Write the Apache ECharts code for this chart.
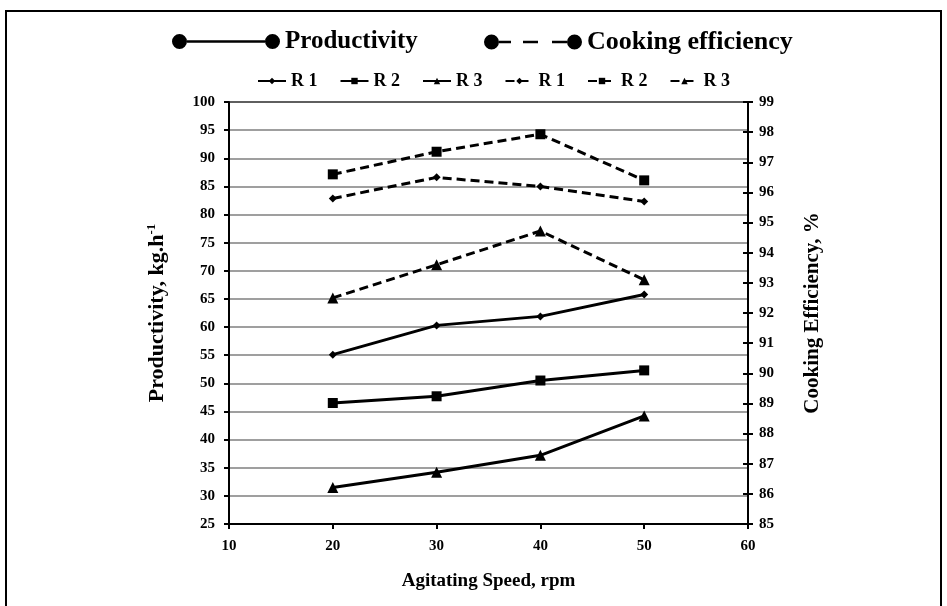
<!DOCTYPE html>
<html>
<head>
<meta charset="utf-8">
<script src="https://cdn.jsdelivr.net/npm/echarts@6/dist/echarts.min.js"></script>
<style>
html,body{margin:0;padding:0;background:#fff;}
#chart{width:947px;height:606px;}
</style>
</head>
<body>
<div id="chart"></div>
<script>
// agitating speed, rpm
var speeds = [20, 30, 40, 50];
// productivity, kg/h (left axis)
var prodR1 = [55.1, 60.3, 61.9, 65.8];
var prodR2 = [46.5, 47.7, 50.5, 52.3];
var prodR3 = [31.5, 34.2, 37.2, 44.2];
// cooking efficiency, % (right axis)
var effR1 = [95.8, 96.5, 96.2, 95.7];
var effR2 = [96.6, 97.35, 97.93, 96.4];
var effR3 = [92.5, 93.6, 94.72, 93.1];

var fontFam = '"Liberation Serif", "Times New Roman", serif';

function pairs(ys) {
    var out = [];
    for (var i = 0; i < speeds.length; i++) {
        out.push([speeds[i], ys[i]]);
    }
    return out;
}

function mkLine(name, ys, axis, symbol, size, dashed) {
    return {
        name: name,
        type: 'line',
        yAxisIndex: axis,
        data: pairs(ys),
        symbol: symbol,
        symbolSize: size,
        color: '#000',
        lineStyle: {color: '#000', width: 3, type: dashed ? [9, 5] : 'solid'},
        itemStyle: {color: '#000'},
        z: 5
    };
}

// legend icons: line with a dot on each end
var iconSolid = 'path://M0,7.5 a7.5,7.5 0 1,0 15,0 a7.5,7.5 0 1,0 -15,0 Z M15,6.2 L93,6.2 L93,8.8 L15,8.8 Z M93,7.5 a7.5,7.5 0 1,0 15,0 a7.5,7.5 0 1,0 -15,0 Z';
var iconDash = 'path://M0,7.5 a7.5,7.5 0 1,0 15,0 a7.5,7.5 0 1,0 -15,0 Z M15,6.2 L27,6.2 L27,8.8 L15,8.8 Z M39,6.2 L54,6.2 L54,8.8 L39,8.8 Z M68,6.2 L83,6.2 L83,8.8 L68,8.8 Z M83,7.5 a7.5,7.5 0 1,0 15,0 a7.5,7.5 0 1,0 -15,0 Z';

var chart = echarts.init(document.getElementById('chart'));
var option = {
    backgroundColor: '#fff',
    animation: false,
    graphic: [{
        type: 'rect',
        shape: {x: 6, y: 11, width: 935, height: 640},
        style: {fill: 'none', stroke: '#000', lineWidth: 2},
        silent: true
    }],
    legend: [{
        left: 167, top: 24,
        itemWidth: 108, itemHeight: 15,
        selectedMode: false,
        textStyle: {fontFamily: fontFam, fontWeight: 'bold', fontSize: 25, color: '#000'},
        data: [{name: 'Productivity', icon: iconSolid}]
    }, {
        left: 479, top: 24,
        itemWidth: 98, itemHeight: 15,
        selectedMode: false,
        textStyle: {fontFamily: fontFam, fontWeight: 'bold', fontSize: 26, color: '#000'},
        data: [{name: 'Cooking efficiency', icon: iconDash}]
    }, {
        left: 252, top: 67,
        itemWidth: 28, itemHeight: 8,
        itemGap: 22,
        selectedMode: false,
        textStyle: {fontFamily: fontFam, fontWeight: 'bold', fontSize: 18, color: '#000'},
        formatter: function (n) { return n.trim(); },
        data: ['R 1', 'R 2', 'R 3', 'R 1 ', 'R 2 ', 'R 3 ']
    }],
    grid: {left: 229, right: 199, top: 102, bottom: 82, show: true, borderColor: '#000', borderWidth: 2},
    xAxis: {
        type: 'value', min: 10, max: 60, interval: 10,
        name: 'Agitating Speed, rpm', nameLocation: 'middle', nameGap: 48,
        nameTextStyle: {fontFamily: fontFam, fontWeight: 'bold', fontSize: 19, color: '#000'},
        axisLine: {lineStyle: {color: '#000', width: 2}},
        axisTick: {length: 5, lineStyle: {color: '#000', width: 2}},
        axisLabel: {margin: 15, fontFamily: fontFam, fontWeight: 'bold', fontSize: 15, color: '#000'},
        splitLine: {show: false}
    },
    yAxis: [{
        type: 'value', min: 25, max: 100, interval: 5,
        name: 'Productivity, kg.h{sup|-1}', nameLocation: 'middle', nameRotate: 90, nameGap: 60,
        nameTextStyle: {fontFamily: fontFam, fontWeight: 'bold', fontSize: 22, color: '#000',
            rich: {sup: {fontFamily: fontFam, fontWeight: 'bold', fontSize: 13, color: '#000', verticalAlign: 'top', padding: [0, 0, 11, 0]}}},
        axisLine: {show: true, lineStyle: {color: '#000', width: 2}},
        axisTick: {show: true, length: 5, lineStyle: {color: '#000', width: 2}},
        axisLabel: {margin: 14, fontFamily: fontFam, fontWeight: 'bold', fontSize: 15, color: '#000'},
        splitLine: {show: true, lineStyle: {color: '#7f7f7f', width: 1.5}}
    }, {
        type: 'value', min: 85, max: 99, interval: 1, position: 'right',
        name: 'Cooking Efficiency, %', nameLocation: 'middle', nameRotate: 90, nameGap: 54,
        nameTextStyle: {fontFamily: fontFam, fontWeight: 'bold', fontSize: 21, color: '#000'},
        axisLine: {show: true, lineStyle: {color: '#000', width: 2}},
        axisTick: {show: true, length: 5, lineStyle: {color: '#000', width: 2}},
        axisLabel: {margin: 11, fontFamily: fontFam, fontWeight: 'bold', fontSize: 15, color: '#000'},
        splitLine: {show: false}
    }, {
        // inner half of the cross ticks on the right axis
        type: 'value', min: 85, max: 99, interval: 1, position: 'right',
        axisLine: {show: false},
        axisTick: {show: true, inside: true, length: 5, lineStyle: {color: '#000', width: 2}},
        axisLabel: {show: false},
        splitLine: {show: false}
    }],
    series: [
        {name: 'Productivity', type: 'line', data: [], color: '#000'},
        {name: 'Cooking efficiency', type: 'line', data: [], color: '#000'},
        mkLine('R 1', prodR1, 0, 'diamond', 8, false),
        mkLine('R 2', prodR2, 0, 'rect', 10, false),
        mkLine('R 3', prodR3, 0, 'triangle', 11, false),
        mkLine('R 1 ', effR1, 1, 'diamond', 8, true),
        mkLine('R 2 ', effR2, 1, 'rect', 10, true),
        mkLine('R 3 ', effR3, 1, 'triangle', 11, true)
    ]
};
chart.setOption(option);
</script>
</body>
</html>
